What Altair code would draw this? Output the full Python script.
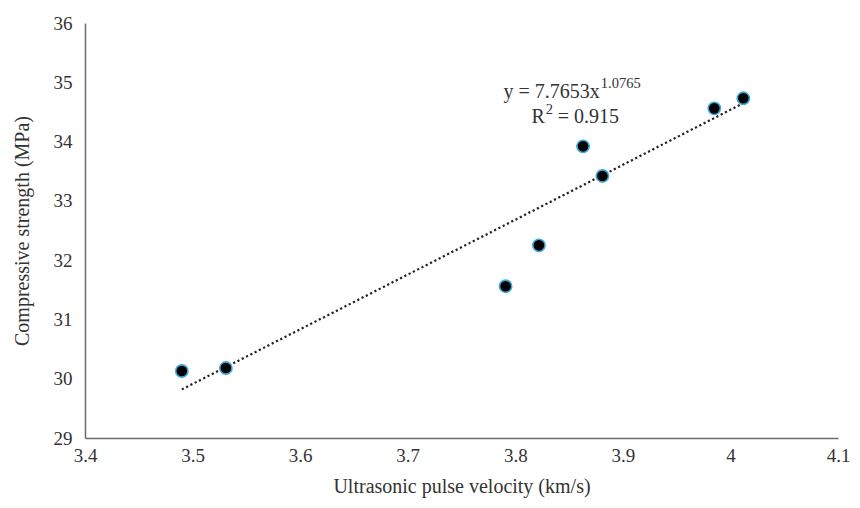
import altair as alt
import pandas as pd

# Measured specimens: ultrasonic pulse velocity (km/s) vs compressive strength (MPa)
velocity = [3.49, 3.531, 3.791, 3.822, 3.863, 3.881, 3.985, 4.012]
strength = [30.13, 30.18, 31.56, 32.25, 33.92, 33.42, 34.56, 34.73]

# Power trendline y = a * x^b
COEF_A = 7.7653
COEF_B = 1.0765
R_SQUARED = 0.915

x_ticks = [3.4, 3.5, 3.6, 3.7, 3.8, 3.9, 4.0, 4.1]
y_ticks = [29, 30, 31, 32, 33, 34, 35, 36]

FONT = "Liberation Serif"
TEXT_COLOR = "#333333"
AXIS_COLOR = "#6b6b6b"

points = pd.DataFrame({"v": velocity, "s": strength})

x_scale = alt.Scale(domain=[3.4, 4.1], nice=False, zero=False)
y_scale = alt.Scale(domain=[29, 36], nice=False, zero=False)

x_axis = alt.Axis(
    values=x_ticks, labelExpr="format(datum.value, '.1~f')", grid=False,
    ticks=False, domainColor=AXIS_COLOR, domainWidth=1.5, labelPadding=8,
    labelFlush=False, labelFont=FONT, labelFontSize=19, labelColor=TEXT_COLOR,
    title="Ultrasonic pulse velocity (km/s)", titleFont=FONT, titleFontSize=20,
    titleFontWeight="normal", titleColor=TEXT_COLOR, titlePadding=11,
)
y_axis = alt.Axis(
    values=y_ticks, format="d", grid=False, ticks=False, domainColor=AXIS_COLOR,
    domainWidth=1.5, labelPadding=13, labelFlush=False, labelFont=FONT,
    labelFontSize=19, labelColor=TEXT_COLOR, title="Compressive strength (MPa)",
    titleFont=FONT, titleFontSize=20, titleFontWeight="normal",
    titleColor=TEXT_COLOR, titlePadding=21,
)

# Trendline evaluated from the fitted power equation over the data range
trend = (
    alt.Chart(alt.sequence(start=min(velocity), stop=max(velocity) + 0.001, step=0.005, as_="v"))
    .transform_calculate(s=f"{COEF_A} * pow(datum.v, {COEF_B})")
    .mark_line(color="#222222", strokeWidth=2.2, strokeDash=[2.2, 2.6])
    .encode(
        x=alt.X("v:Q", scale=x_scale, axis=x_axis),
        y=alt.Y("s:Q", scale=y_scale, axis=y_axis),
    )
)

dots = (
    alt.Chart(points)
    .mark_point(filled=True, fill="black", stroke="#3ea8dc", strokeWidth=1.6,
                size=150, opacity=1, shape="circle")
    .encode(x=alt.X("v:Q", scale=x_scale), y=alt.Y("s:Q", scale=y_scale))
)

# Equation label pieces: (x, y, text, size, align) in data coordinates
eq_parts = pd.DataFrame({
    "v": [3.8786, 3.8795, 3.8275, 3.8283, 3.8395],
    "s": [34.73, 34.90, 34.31, 34.47, 34.31],
    "t": [f"y = {COEF_A}x", f"{COEF_B}", "R", "2", f"= {R_SQUARED}"],
    "fs": [20, 14.5, 20, 14.5, 20],
    "al": ["right", "left", "right", "left", "left"],
})


def eq_text(i):
    row = eq_parts.iloc[[i]]
    return (
        alt.Chart(row)
        .mark_text(font=FONT, fontSize=float(row["fs"].iloc[0]), color=TEXT_COLOR,
                   align=row["al"].iloc[0], baseline="alphabetic")
        .encode(x=alt.X("v:Q", scale=x_scale), y=alt.Y("s:Q", scale=y_scale), text="t:N")
    )


chart = (
    alt.layer(trend, dots, *[eq_text(i) for i in range(len(eq_parts))])
    .properties(
        width=753, height=415,
        autosize=alt.AutoSizeParams(type="none"),
        padding={"left": 85, "top": 23, "right": 22, "bottom": 70},
        background="white",
    )
    .configure_view(stroke=None)
)

chart.save("out.html", embed_options={"renderer": "svg", "actions": False})
